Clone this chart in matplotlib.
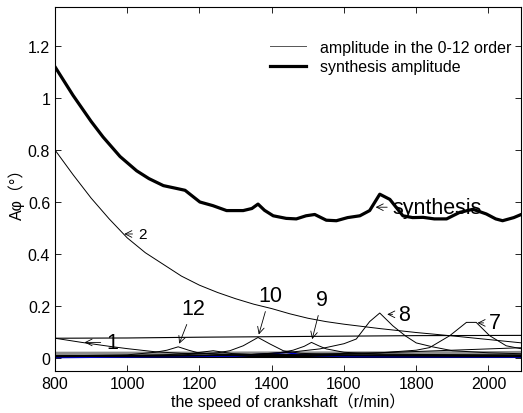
import matplotlib
matplotlib.use('Agg')
import matplotlib.pyplot as plt

plt.rcParams['font.family'] = ['Liberation Sans', 'Noto Sans CJK SC', 'DejaVu Sans']

# synthesis amplitude
syn_speed = [800, 850, 900, 933, 980, 1026, 1060, 1100, 1137, 1160, 1201, 1237, 1275, 1321, 1345,
             1362, 1380, 1404, 1440, 1468, 1495, 1519, 1551, 1579, 1610, 1644, 1671, 1699, 1727,
             1763, 1790, 1819, 1850, 1884, 1920, 1957, 1994, 2020, 2039, 2070, 2094]
syn_amp = [1.12, 1.01, 0.91, 0.85, 0.775, 0.72, 0.69, 0.663, 0.652, 0.645, 0.60, 0.586, 0.567, 0.567, 0.575,
           0.592, 0.568, 0.547, 0.537, 0.535, 0.547, 0.552, 0.53, 0.528, 0.54, 0.547, 0.567, 0.63, 0.61,
           0.547, 0.54, 0.541, 0.535, 0.535, 0.56, 0.572, 0.554, 0.535, 0.528, 0.54, 0.554]

# order amplitudes
o2_speed = [800, 850, 900, 950, 1000, 1050, 1100, 1150, 1200, 1250, 1300, 1350, 1400, 1450, 1500,
            1550, 1600, 1700, 1800, 1900, 2000, 2100]
o2_amp = [0.80, 0.705, 0.615, 0.535, 0.462, 0.405, 0.36, 0.315, 0.28, 0.252, 0.228, 0.207, 0.19, 0.17, 0.153,
          0.14, 0.13, 0.113, 0.098, 0.085, 0.071, 0.057]

o1_speed = [800, 874, 950, 1000, 1077, 1150, 1250, 1400, 1600, 1800, 2100]
o1_amp = [0.076, 0.06, 0.045, 0.036, 0.024, 0.018, 0.015, 0.013, 0.012, 0.012, 0.012]

o0_speed = [800, 1000, 1200, 1400, 1600, 1800, 2100]
o0_amp = [0.076, 0.077, 0.080, 0.082, 0.084, 0.086, 0.087]

o12_speed = [800, 1000, 1077, 1110, 1141, 1170, 1196, 1250, 1400, 2100]
o12_amp = [0.008, 0.012, 0.022, 0.030, 0.043, 0.030, 0.020, 0.014, 0.010, 0.006]

o11_speed = [800, 1100, 1180, 1238, 1290, 1400, 2100]
o11_amp = [0.006, 0.012, 0.018, 0.028, 0.017, 0.010, 0.006]

o10_speed = [800, 1150, 1250, 1284, 1321, 1362, 1395, 1432, 1480, 1600, 2100]
o10_amp = [0.006, 0.012, 0.020, 0.028, 0.047, 0.079, 0.054, 0.028, 0.018, 0.012, 0.008]

o9_speed = [800, 1300, 1420, 1459, 1490, 1510, 1530, 1551, 1600, 1700, 2100]
o9_amp = [0.005, 0.010, 0.020, 0.030, 0.045, 0.060, 0.047, 0.035, 0.022, 0.015, 0.010]

o8_speed = [800, 1300, 1450, 1533, 1600, 1634, 1671, 1699, 1735, 1770, 1800, 1845, 1900, 2000, 2100]
o8_amp = [0.006, 0.010, 0.022, 0.035, 0.055, 0.073, 0.140, 0.173, 0.124, 0.085, 0.058, 0.043, 0.028, 0.020, 0.016]

o7_speed = [800, 1500, 1700, 1800, 1837, 1893, 1939, 1966, 2003, 2049, 2100]
o7_amp = [0.005, 0.012, 0.020, 0.030, 0.040, 0.086, 0.137, 0.137, 0.086, 0.047, 0.033]

o6_speed = [800, 1400, 1700, 1900, 2100]
o6_amp = [0.008, 0.012, 0.020, 0.030, 0.040]

o5_speed = [800, 1400, 2100]
o5_amp = [0.010, 0.016, 0.025]

o4_speed = [800, 1400, 2100]
o4_amp = [0.020, 0.021, 0.022]

o3_speed = [800, 1300, 1400, 1440, 1480, 1600, 2100]
o3_amp = [0.002, 0.008, 0.016, 0.022, 0.012, 0.006, 0.004]

low_speed = [800, 1400, 2100]
low_a = [0.015, 0.014, 0.016]
low_b = [0.006, 0.006, 0.007]
low_c = [0.004, 0.004, 0.004]

fig = plt.figure(figsize=(5.23, 4.14), dpi=100)
ax = fig.add_axes([55 / 523, 42 / 414, 466 / 523, 364 / 414])

gray = '#8c8c8c'
ax.plot(low_speed, low_a, color=gray, lw=2.2)
ax.plot(o4_speed, o4_amp, color=gray, lw=1.6)
ax.plot(o5_speed, o5_amp, color=gray, lw=1.0)
ax.plot(low_speed, low_b, color='black', lw=1.5)
ax.plot(low_speed, low_c, color='black', lw=1.5)
ax.plot(o6_speed, o6_amp, color='black', lw=0.7)
ax.plot(o3_speed, o3_amp, color='#0000cc', lw=1.2)
for sp, am in [(o12_speed, o12_amp), (o11_speed, o11_amp), (o10_speed, o10_amp),
               (o9_speed, o9_amp), (o8_speed, o8_amp), (o7_speed, o7_amp), (o1_speed, o1_amp)]:
    ax.plot(sp, am, color='black', lw=0.7)
ax.plot(o0_speed, o0_amp, color='black', lw=0.8)
ax.plot(o2_speed, o2_amp, color='black', lw=0.7, label='amplitude in the 0-12 order')
ax.plot(syn_speed, syn_amp, color='black', lw=2.3, label='synthesis amplitude')

ax.set_xlim(800, 2090)
ax.set_ylim(-0.05, 1.35)
ax.set_xticks([800, 1000, 1200, 1400, 1600, 1800, 2000])
ax.set_yticks([0, 0.2, 0.4, 0.6, 0.8, 1.0, 1.2])
ax.set_yticklabels(['0', '0.2', '0.4', '0.6', '0.8', '1', '1.2'])
ax.tick_params(direction='in', top=True, right=True, labelsize=11.5, length=4, width=0.6)
for s in ax.spines.values():
    s.set_linewidth(0.8)

ax.set_xlabel('the speed of crankshaft（r/min）', fontsize=11.5, labelpad=1)
ax.set_ylabel('Aφ（°）', fontsize=11.5, labelpad=2)

leg = ax.legend(loc='upper right', frameon=False, fontsize=11.5, handlelength=2.2,
                bbox_to_anchor=(1.01, 0.95), labelspacing=0.3, handletextpad=0.9)
leg.get_lines()[0].set_color('#555555')

arrow = dict(arrowstyle='->', color='black', lw=0.6, mutation_scale=12)
ax.annotate('2', xy=(984, 0.477), xytext=(1030, 0.477), fontsize=11, va='center', arrowprops=arrow)
ax.annotate('synthesis', xy=(1680, 0.58), xytext=(1735, 0.58), fontsize=15.5, va='center', arrowprops=arrow)
ax.annotate('1', xy=(874, 0.06), xytext=(942, 0.06), fontsize=15.5, va='center', arrowprops=arrow)
ax.annotate('12', xy=(1141, 0.045), xytext=(1182, 0.19), fontsize=15.5, ha='center', va='center', arrowprops=arrow)
ax.annotate('10', xy=(1362, 0.08), xytext=(1395, 0.24), fontsize=15.5, ha='center', va='center', arrowprops=arrow)
ax.annotate('9', xy=(1510, 0.062), xytext=(1540, 0.225), fontsize=15.5, ha='center', va='center', arrowprops=arrow)
ax.annotate('8', xy=(1712, 0.168), xytext=(1750, 0.168), fontsize=15.5, va='center', arrowprops=arrow)
ax.annotate('7', xy=(1962, 0.135), xytext=(2002, 0.135), fontsize=15.5, va='center', arrowprops=arrow)

fig.savefig('out.png', dpi=100)
